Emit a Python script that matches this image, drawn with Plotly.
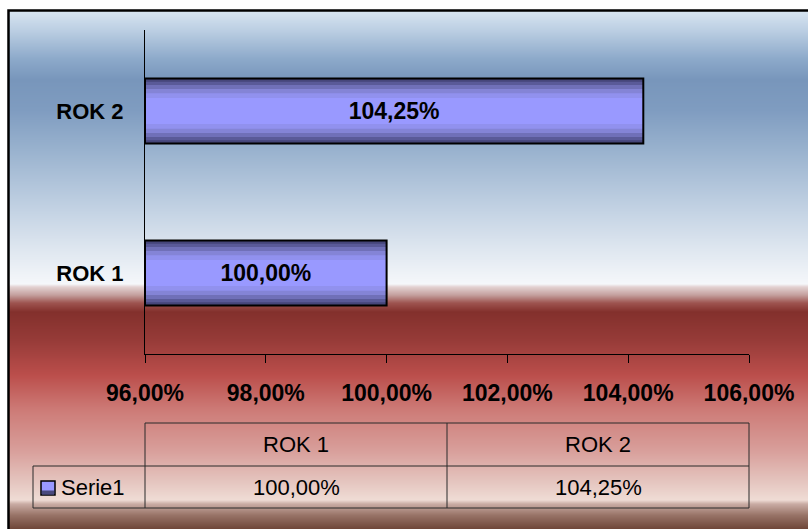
import plotly.graph_objects as go

# ---------------- data ----------------
categories = ["ROK 1", "ROK 2"]
series_name = "Serie1"
values = [1.0000, 1.0425]          # 100,00 % and 104,25 %
x_ticks = [0.96, 0.98, 1.00, 1.02, 1.04, 1.06]

W, H = 808, 529
FONT = "Arial, 'Liberation Sans', sans-serif"

def px(x):
    return x / W

def py(y):
    return 1 - y / H

def fmt_pct(v):
    return f"{v * 100:.2f}%".replace(".", ",")

def hex2rgb(h):
    h = h.lstrip("#")
    return tuple(int(h[i:i + 2], 16) for i in (0, 2, 4))

def interp(stops, y):
    for (y0, c0), (y1, c1) in zip(stops, stops[1:]):
        if y0 <= y <= y1:
            t = 0 if y1 == y0 else (y - y0) / (y1 - y0)
            a, b = hex2rgb(c0), hex2rgb(c1)
            return "rgb(%d,%d,%d)" % tuple(round(a[i] + (b[i] - a[i]) * t) for i in range(3))
    return stops[-1][1]

bg_stops = [
    (10, "#d9e6f2"), (30, "#bccfe3"), (60, "#8ba8c9"), (80, "#7896bb"),
    (110, "#7f9cc0"), (150, "#99b2ce"), (200, "#bccde0"), (250, "#dfe7f0"),
    (284, "#f5f7fa"), (287, "#e3d1d1"), (295, "#c4a09e"), (303, "#9e5450"),
    (312, "#83302c"), (340, "#963b38"), (375, "#bb4e4b"), (410, "#cd7b77"),
    (450, "#d89e9a"), (480, "#e4c3bd"), (500, "#efdcd5"), (504, "#c9aca4"),
    (515, "#997468"), (529, "#6e4638"),
]

shapes = []
for yy in range(10, H):
    shapes.append(dict(type="rect", xref="paper", yref="paper",
                       x0=px(8), x1=1.01, y0=py(yy + 1), y1=py(yy),
                       fillcolor=interp(bg_stops, yy + 0.5), line=dict(width=0),
                       layer="below"))
# outer border
shapes.append(dict(type="rect", xref="paper", yref="paper",
                   x0=px(8.5), x1=1.02, y0=-0.02, y1=py(10.5),
                   line=dict(color="black", width=2.5), fillcolor="rgba(0,0,0,0)",
                   layer="above"))

# plot area geometry
X0, X1 = 145, 749
Y0, Y1 = 30, 354

fig = go.Figure()

base = x_ticks[0]                       # bars start at the axis minimum
lengths = [v - base for v in values]
labels = [fmt_pct(v) for v in values]

# gradient bar layers (dark edges -> light centre)
bar_w = 0.40
layers = [
    (1.00, "#46467a"), (0.90, "#5a5a98"), (0.80, "#7070b8"),
    (0.68, "#8484d6"), (0.55, "#9191ee"), (0.40, "#9999ff"),
]
for frac, col in layers:
    fig.add_trace(go.Bar(
        y=categories, x=lengths, base=base, orientation="h", width=bar_w * frac,
        marker=dict(color=col, line=dict(width=0)),
        showlegend=False, hoverinfo="skip"))

# outline + labels
fig.add_trace(go.Bar(
    y=categories, x=lengths, base=base, orientation="h", width=bar_w, name=series_name,
    marker=dict(color="rgba(0,0,0,0)", line=dict(color="black", width=2)),
    text=labels, texttemplate="%{text}", textposition="inside",
    insidetextanchor="middle", textangle=0, constraintext="none",
    textfont=dict(family=FONT, size=23, color="black", weight="bold"),
    showlegend=False))

# ---------------- data table ----------------
ann = []
T_top, T_mid, T_bot, L_left = 423, 466, 508, 33
col_w = (X1 - X0) / len(categories)
line_col = "#2a2a2a"

def hline(y, xa, xb):
    shapes.append(dict(type="line", xref="paper", yref="paper", x0=px(xa), x1=px(xb),
                       y0=py(y), y1=py(y), line=dict(color=line_col, width=1)))

def vline(x, ya, yb):
    shapes.append(dict(type="line", xref="paper", yref="paper", x0=px(x), x1=px(x),
                       y0=py(ya), y1=py(yb), line=dict(color=line_col, width=1)))

hline(T_top, X0, X1)
hline(T_mid, L_left, X1)
hline(T_bot, L_left, X1)
vline(L_left, T_mid, T_bot)
for i in range(len(categories) + 1):
    vline(X0 + i * col_w, T_top, T_bot)

TFONT = dict(family=FONT, size=22, color="black")
for i, (c, lab) in enumerate(zip(categories, labels)):
    cx = X0 + (i + 0.5) * col_w
    ann.append(dict(x=px(cx), y=py((T_top + T_mid) / 2), xref="paper", yref="paper",
                    xanchor="center", yanchor="middle",
                    text=c, showarrow=False, font=TFONT))
    ann.append(dict(x=px(cx), y=py((T_mid + T_bot) / 2), xref="paper", yref="paper",
                    xanchor="center", yanchor="middle",
                    text=lab, showarrow=False, font=TFONT))

# legend key in table
shapes.append(dict(type="rect", xref="paper", yref="paper",
                   x0=px(41), x1=px(55), y0=py(495), y1=py(481),
                   fillcolor="#9999ff", line=dict(color="black", width=1.5)))
shapes.append(dict(type="rect", xref="paper", yref="paper",
                   x0=px(42), x1=px(54), y0=py(494.5), y1=py(490.5),
                   fillcolor="#4a4a7e", line=dict(width=0)))
ann.append(dict(x=px(59), y=py(487), xref="paper", yref="paper", xanchor="left",
                yanchor="middle", text=series_name, showarrow=False, font=TFONT))

fig.update_layout(
    width=W, height=H, margin=dict(l=0, r=0, t=0, b=0, autoexpand=False),
    paper_bgcolor="white", plot_bgcolor="rgba(0,0,0,0)",
    barmode="overlay", separators=",.",
    shapes=shapes, annotations=ann,
    xaxis=dict(domain=[px(X0), px(X1)], range=[x_ticks[0], x_ticks[-1]],
               tickvals=x_ticks, tickformat=".2%", showgrid=False, zeroline=False,
               showline=True, linecolor="black", linewidth=1, automargin=False,
               ticks="outside", ticklen=8, tickcolor="black", tickwidth=1,
               ticklabelstandoff=10,
               tickfont=dict(family=FONT, size=23, color="black", weight="bold")),
    yaxis=dict(domain=[py(Y1), py(Y0)], showgrid=False, zeroline=False,
               showline=True, linecolor="black", linewidth=1, ticks="",
               automargin=False, ticklabelstandoff=16,
               tickfont=dict(family=FONT, size=22, color="black", weight="bold")),
)

fig.write_html("out.html")
